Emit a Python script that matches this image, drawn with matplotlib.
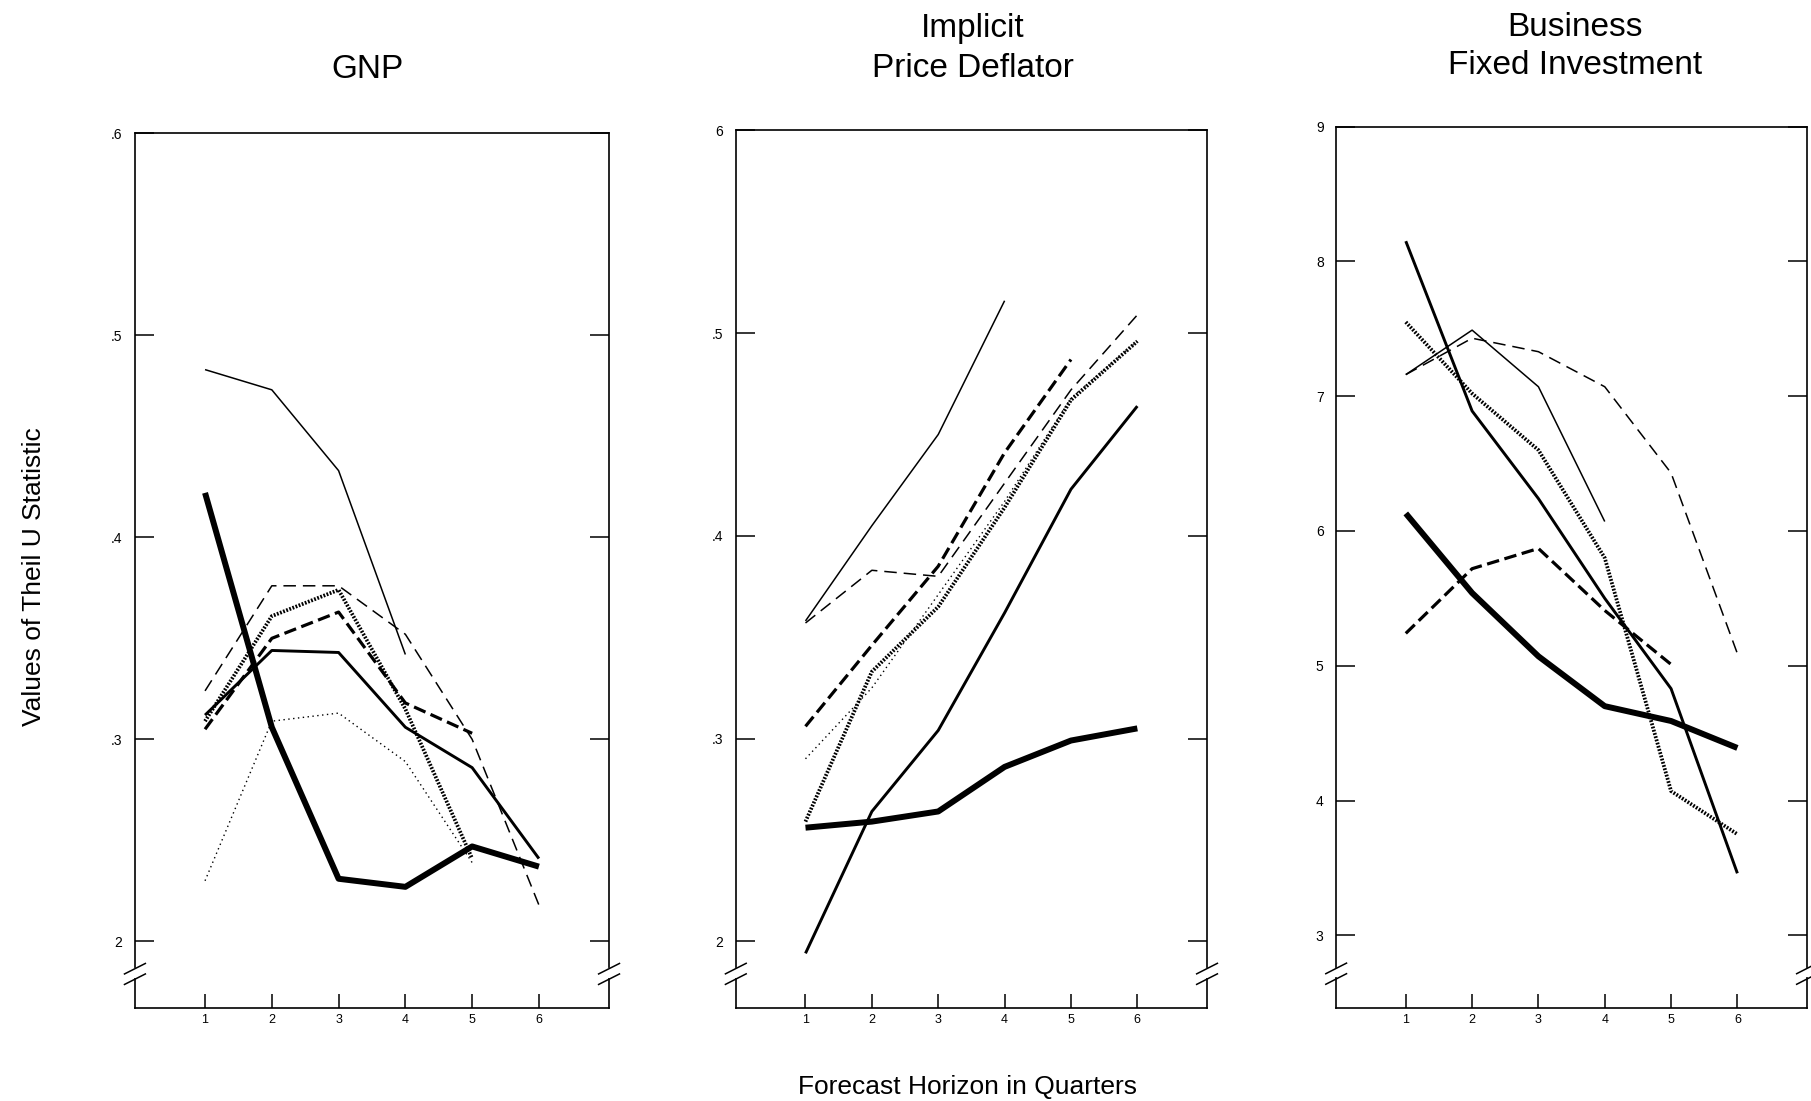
import matplotlib
matplotlib.use("Agg")
import matplotlib.pyplot as plt

plt.rcParams['font.family'] = ['Liberation Sans', 'DejaVu Sans']
plt.rcParams['lines.scale_dashes'] = False

# ---------------- data ----------------
horizons = [1, 2, 3, 4, 5, 6]
x_tick_labels = ['1', '2', '3', '4', '5', '6']

titles = ['GNP', 'Implicit\nPrice Deflator', 'Business\nFixed Investment']

# GNP
gnp_thin_solid = [0.483, 0.473, 0.433, 0.342]
gnp_heavy = [0.422, 0.306, 0.231, 0.227, 0.247, 0.237]
gnp_medium = [0.312, 0.344, 0.343, 0.306, 0.286, 0.241]
gnp_thin_dashed = [0.324, 0.376, 0.376, 0.352, 0.300, 0.218]
gnp_thick_dashed = [0.305, 0.350, 0.363, 0.318, 0.303]
gnp_thick_dotted = [0.309, 0.361, 0.374, 0.315, 0.241]
gnp_thin_dotted = [0.230, 0.309, 0.313, 0.289, 0.239]

# Implicit price deflator
ipd_thin_solid = [0.358, 0.405, 0.450, 0.516]
ipd_heavy = [0.256, 0.259, 0.264, 0.286, 0.299, 0.305]
ipd_medium = [0.194, 0.264, 0.304, 0.362, 0.423, 0.464]
ipd_thin_dashed = [0.357, 0.383, 0.380, 0.426, 0.472, 0.509]
ipd_thick_dashed = [0.306, 0.346, 0.385, 0.441, 0.487]
ipd_thick_dotted = [0.259, 0.333, 0.365, 0.414, 0.467, 0.496]
ipd_thin_dotted = [0.290, 0.325, 0.371, 0.417, 0.468, 0.496]

# Business fixed investment
bfi_heavy = [6.13, 5.54, 5.07, 4.70, 4.59, 4.39]
bfi_medium = [8.15, 6.89, 6.24, 5.50, 4.83, 3.46]
bfi_thin_solid = [7.16, 7.49, 7.07, 6.07]
bfi_thin_dashed = [7.16, 7.43, 7.33, 7.07, 6.43, 5.09]
bfi_thick_dashed = [5.24, 5.72, 5.87, 5.41, 5.01]
bfi_thick_dotted = [7.55, 7.02, 6.60, 5.80, 4.07, 3.75]

gnp_yticks = [0.2, 0.3, 0.4, 0.5, 0.6]
gnp_ylabels = ['2', '.3', '.4', '.5', '.6']
ipd_yticks = [0.2, 0.3, 0.4, 0.5, 0.6]
ipd_ylabels = ['2', '.3', '.4', '.5', '6']
bfi_yticks = [3, 4, 5, 6, 7, 8, 9]
bfi_ylabels = ['3', '4', '5', '6', '7', '8', '9']

# ---------------- styles ----------------
styles = {
    'thin_solid':   dict(lw=1.1, ls='-'),
    'heavy':        dict(lw=4.3, ls='-'),
    'medium':       dict(lw=2.1, ls='-'),
    'thin_dashed':  dict(lw=1.1, dashes=(9, 5)),
    'thick_dashed': dict(lw=2.3, dashes=(9, 4)),
    'thick_dotted': dict(lw=2.7, dashes=(1.3, 1.1)),
    'thin_dotted':  dict(lw=1.0, dashes=(1, 2.5)),
}

panels = [
    dict(series={'thin_solid': gnp_thin_solid, 'thin_dashed': gnp_thin_dashed,
                 'thin_dotted': gnp_thin_dotted, 'thick_dashed': gnp_thick_dashed,
                 'thick_dotted': gnp_thick_dotted, 'medium': gnp_medium,
                 'heavy': gnp_heavy},
         yticks=gnp_yticks, ylabels=gnp_ylabels, ylim=(0.167, 0.6),
         pos=[0.0745, 0.0844, 0.2618, 0.7946]),
    dict(series={'thin_solid': ipd_thin_solid, 'thin_dashed': ipd_thin_dashed,
                 'thin_dotted': ipd_thin_dotted, 'thick_dashed': ipd_thick_dashed,
                 'thick_dotted': ipd_thick_dotted, 'medium': ipd_medium,
                 'heavy': ipd_heavy},
         yticks=ipd_yticks, ylabels=ipd_ylabels, ylim=(0.167, 0.6),
         pos=[0.4063, 0.0844, 0.2602, 0.7971]),
    dict(series={'thin_solid': bfi_thin_solid, 'thin_dashed': bfi_thin_dashed,
                 'thick_dashed': bfi_thick_dashed, 'thick_dotted': bfi_thick_dotted,
                 'medium': bfi_medium, 'heavy': bfi_heavy},
         yticks=bfi_yticks, ylabels=bfi_ylabels, ylim=(2.46, 9.0),
         pos=[0.7378, 0.0844, 0.2600, 0.8006]),
]

fig = plt.figure(figsize=(18.11, 11.01), dpi=100)

for p in panels:
    ax = fig.add_axes(p['pos'])
    for key, vals in p['series'].items():
        st = dict(styles[key])
        ax.plot(horizons[:len(vals)], vals, color='black',
                solid_joinstyle='round', solid_capstyle='butt',
                dash_capstyle='butt', **st)
    ax.set_xlim(-0.05, 7.05)
    ax.set_ylim(*p['ylim'])
    ax.set_xticks(horizons)
    ax.set_xticklabels(x_tick_labels, fontsize=9)
    ax.set_yticks(p['yticks'])
    ax.set_yticklabels(p['ylabels'], fontsize=10)
    ax.tick_params(axis='y', direction='in', left=True, right=True,
                   length=14, width=1.1, pad=9)
    ax.tick_params(axis='x', direction='in', bottom=True, top=False,
                   length=10, width=1.1, pad=4)
    for s in ax.spines.values():
        s.set_linewidth(1.2)
    # axis break marks on both vertical spines
    for xc in (0.0, 1.0):
        ax.plot([xc, xc], [0.037, 0.043], transform=ax.transAxes,
                color='white', lw=3, clip_on=False, zorder=5)
        for yc in (0.033, 0.045):
            ax.plot([xc - 0.022, xc + 0.022], [yc - 0.006, yc + 0.006],
                    transform=ax.transAxes, color='black', lw=1.1,
                    clip_on=False, zorder=6)

fig.text(0.2028, 0.937, titles[0], ha='center', va='center', fontsize=24)
fig.text(0.537, 0.956, titles[1], ha='center', va='center', fontsize=24,
         linespacing=1.35)
fig.text(0.8698, 0.958, titles[2], ha='center', va='center', fontsize=24,
         linespacing=1.3)

fig.text(0.019, 0.476, 'Values of Theil U Statistic', rotation=90,
         ha='center', va='center', fontsize=19)
fig.text(0.5345, 0.013, 'Forecast Horizon in Quarters', ha='center',
         va='center', fontsize=19)

fig.savefig('out.png', dpi=100, facecolor='white')
